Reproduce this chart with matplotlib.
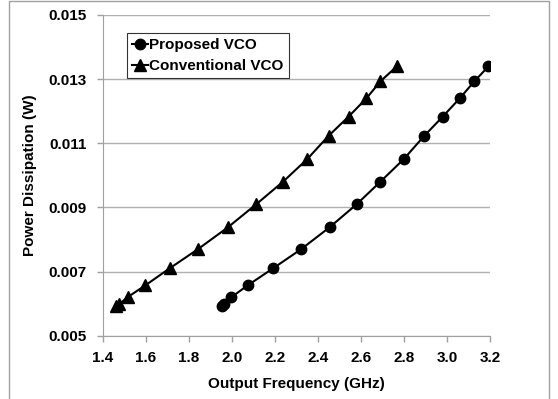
import matplotlib
matplotlib.use("Agg")
import matplotlib.pyplot as plt
from matplotlib.patches import Rectangle

# power dissipation (W), shared by both curves
power = [0.00592, 0.00598, 0.00620, 0.00657, 0.00710, 0.00770, 0.00838, 0.00910,
         0.00980, 0.01050, 0.01123, 0.01183, 0.01240, 0.01293, 0.01340]
# output frequency (GHz)
freq_proposed = [1.953, 1.965, 1.997, 2.073, 2.191, 2.322, 2.454, 2.580,
                 2.690, 2.798, 2.894, 2.980, 3.059, 3.127, 3.193]
freq_conventional = [1.460, 1.475, 1.514, 1.597, 1.710, 1.842, 1.981, 2.113,
                     2.237, 2.349, 2.449, 2.542, 2.625, 2.690, 2.767]
xticks = [1.4, 1.6, 1.8, 2.0, 2.2, 2.4, 2.6, 2.8, 3.0, 3.2]
yticks = [0.005, 0.007, 0.009, 0.011, 0.013, 0.015]

plt.rcParams["font.family"] = ["Liberation Sans", "DejaVu Sans"]
plt.rcParams["font.weight"] = "bold"
FS = 11

W, H = 558, 399
fig = plt.figure(figsize=(W / 100, H / 100), dpi=100)
ax = fig.add_axes([103 / W, 1 - 335.7 / H, (490 - 103) / W, (335.7 - 15) / H])

ax.plot(freq_proposed, power, "-o", color="k", lw=1.5, ms=7.5, label="Proposed VCO")
ax.plot(freq_conventional, power, "-^", color="k", lw=1.5, ms=8.5, label="Conventional VCO")

ax.set_xlim(1.4, 3.2)
ax.set_ylim(0.005, 0.015)
ax.set_xticks(xticks)
ax.set_xticklabels([f"{v:.1f}" for v in xticks])
ax.set_yticks(yticks)
ax.set_yticklabels([f"{v:.3f}" for v in yticks])
ax.grid(True, axis="y", color="#b0b0b0", lw=1)
ax.set_axisbelow(True)
for s in ("top", "right"):
    ax.spines[s].set_visible(False)
for s in ("left", "bottom"):
    ax.spines[s].set_color("#a0a0a0")
ax.tick_params(axis="both", colors="#a0a0a0", labelcolor="k", labelsize=FS,
               length=4, width=1)
ax.tick_params(axis="x", pad=7)
ax.tick_params(axis="y", pad=8)

ax.set_xlabel("Output Frequency (GHz)", fontsize=FS, fontweight="bold", labelpad=9)
ax.set_ylabel("Power Dissipation (W)", fontsize=FS, fontweight="bold", labelpad=8)

leg = ax.legend(loc="upper left", bbox_to_anchor=(0.062, 0.945), fontsize=FS,
                frameon=True, fancybox=False, handlelength=1.0, handletextpad=0.1,
                borderpad=0.35, labelspacing=0.45, borderaxespad=0)
leg.get_frame().set_edgecolor("k")
leg.get_frame().set_linewidth(0.8)

fig.patches.append(Rectangle((9 / W, -0.01), (549 - 9) / W, 1 - 1 / H + 0.01,
                             transform=fig.transFigure, fill=False,
                             edgecolor="#a0a0a0", lw=1))

fig.savefig("out.png", dpi=100)
